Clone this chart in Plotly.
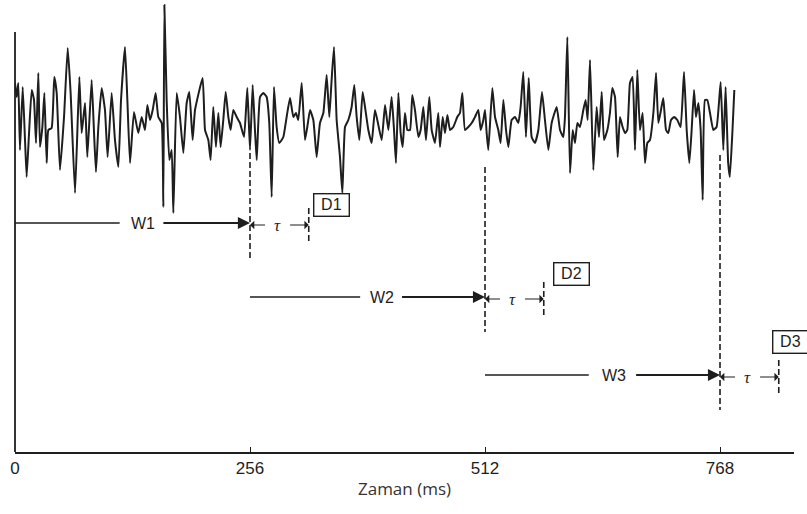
import plotly.graph_objects as go

# ---------------- data ----------------
time_ms = [0, 1.8, 3.6, 5.4, 8.4, 10.9, 12.7, 15.3, 18.2, 20.7, 22.9, 25.4, 27.2, 29.8, 32.0, 34.5,
           36.3, 39.9, 42.8, 45.4, 49.0, 53.4, 57.4, 60.6, 65.4, 70.1, 72.6, 76.3, 78.8, 83.5, 86.1,
           88.2, 90.8, 94.4, 98.0, 100.9, 105.3, 108.9, 112.6, 115.5, 119.8, 122.4, 125.3, 129.6,
           134.3, 138.0, 141.6, 144.2, 147.1, 150.0, 153.2, 156.1, 159.8, 161.6, 162.7, 165.2, 168.1,
           170.7, 172.5, 176.1, 179.7, 183.4, 187.0, 189.9, 193.5, 196.1,
           204.4, 207.0, 210.6, 213.1, 216.0, 218.9, 221.5, 224.0, 226.9, 229.5, 232.4, 234.9, 237.8,
           241.5, 245.1, 249.5, 253.1, 256.0, 258.9, 261.4, 263.3, 266.9, 270.5, 274.1, 277.0, 279.6,
           282.1, 285.0, 287.9, 292.3, 295.9, 299.6, 303.2, 306.1, 308.6, 312.3, 315.9, 318.4, 321.4,
           325.0, 328.6, 332.2, 335.9, 339.5, 342.4, 344.9, 347.5, 350.4, 354.0, 356.6, 359.5, 363.1,
           366.7, 369.6, 372.2, 375.1, 378.7, 381.3, 384.9, 388.5, 392.2,
           399.4, 403.1, 406.7, 410.3, 412.9, 415.0, 417.6, 420.1, 422.3, 424.8, 427.4, 430.3, 432.8,
           435.7, 439.4, 441.9, 444.8, 447.7, 451.3, 453.9, 457.5, 461.1, 463.0, 465.9, 468.4, 471.0,
           473.9, 477.5, 481.8, 484.7, 487.3, 490.2, 493.8, 497.5, 501.1, 504.7, 507.3, 510.2, 512.0,
           513.8, 515.6, 520.0, 522.9, 526.5, 529.0, 532.0, 534.9, 537.4, 541.0, 544.7, 548.3, 550.8,
           553.7, 556.6, 559.6, 562.8, 566.4, 570.1, 574.1, 577.3, 581.0, 584.6,
           590.1, 593.7, 597.3, 599.1, 601.7, 604.6, 607.5, 610.0, 612.6, 615.5, 619.1, 621.6, 623.8,
           626.4, 630.0, 633.6, 636.2, 639.1, 641.6, 645.3, 648.1, 650.7, 653.6, 656.5, 659.0, 661.9,
           664.5, 667.0, 669.9, 672.8, 675.4, 677.9, 680.8, 683.7, 686.3, 688.8, 691.7, 695.4, 698.3,
           700.8, 703.7, 706.2, 709.2, 711.7, 714.6, 717.9, 721.5, 725.1, 728.8, 731.7, 734.6, 737.1,
           739.7, 741.8, 744.4, 746.9, 749.1, 751.6, 754.2, 757.1, 760.7, 764.3, 768.7, 771.6, 774.1,
           776.9, 778.7, 781.6, 783.6]

amplitude = [27, 13, 27, -40, 23, -30, -67, -23, 20, 10, -33, 37, -37, -17, 17, -53,
             -20, -18, 33, 17, -60, -7, 62, 17, -83, 33, -23, 7, -47, 30, -23,
             -62, -17, 22, 0, -47, 17, -30, -57, 10, 63, 10, -53, -2,
             -23, -7, -20, 5, -10, 0, 17, -7, -13, -97, 105, 10, -50,
             -40, -103, 17, -7, -43, 7, 18, -30, 0,
             32, -20, -30, -50, 3, -37, -3, -37, -10, 18, -7, -20, 0,
             -7, -13, -27, 22, -40, 25, -20, -50, 13, 17, 13, -13, -87,
             23, -17, -33, -27, -7, 12, -7, -3, -10, 27, -30, -17, 0,
             -10, -47, -13, -3, 35, -7, 30, 63, -10, -47, -83, -17, -10,
             3, 25, -7, -30, 18, 3, -20, -33, 0,
             -30, 5, -20, 13, -20, -53, 17, -23, -37, -3, -20, -20, 15,
             0, -27, -20, 3, -30, 13, -20, -33, -3, -37, -7, -23, -5,
             -20, -17, -7, -3, 17, -20, -17, -13, -7, 0, -20, -10, 0,
             -23, -40, 22, -7, -20, -33, 10, -20, -37, -10, -7, -13, 3,
             38, -27, 32, -27, -33, -20, 18, -10, -40, -13,
             3, -20, -27, -7, 73, -63, -20, -33, -13, -17, 0, 10, -10,
             50, -60, 3, -27, 18, -30, -20, -3, 22, 13, -47, -7, -17,
             -23, -20, 27, 33, -40, 40, -20, -3, -53, -33, -30, -3, 37,
             -13, 0, 12, -20, -23, -10, -7, -10, -17, 38, -20, -53, -20,
             20, -7, 7, -20, -90, 10, 10, -3, -20, -17, 28, -40, 23,
             -53, -67, -20, 20]

tick_values = [0, 256, 512, 768]
tick_labels = ["0", "256", "512", "768"]
window_starts = [0, 256, 512]
window_length = 256
tau_ms = 64
window_names = ["W1", "W2", "W3"]
decision_names = ["D1", "D2", "D3"]

# ---------------- layout constants ----------------
INK = "#1e1e1e"
w_levels = [-113, -187, -265]          # vertical level of each window arrow
w_text_offset = [139, 144, 140]        # label position from window start (ms)
w_gap = [25, 24, 27]                   # half-gap around label (ms)
dash_tops = [-43, -57, -45]            # top of each window-end dashed line
dash_ext = 35                          # extension below level
d_dx = [25, 30, 13]
d_dy = [18, 23, 33]

fig = go.Figure()
fig.add_trace(go.Scatter(x=time_ms, y=amplitude, mode="lines",
                         line=dict(color=INK, width=2.0, shape="spline", smoothing=0.4),
                         hoverinfo="skip", showlegend=False))

shapes = []
annotations = []

# left axis line
shapes.append(dict(type="line", xref="paper", yref="y", x0=0, x1=0, y0=78, y1=-342,
                   line=dict(color=INK, width=1.8)))

for i, ws in enumerate(window_starts):
    we = ws + window_length
    lvl = w_levels[i]
    tx = ws + w_text_offset[i]
    # left plain segment
    shapes.append(dict(type="line", xref="x", yref="y", x0=ws, x1=tx - w_gap[i], y0=lvl, y1=lvl,
                       line=dict(color=INK, width=1.3)))
    # window end dashed line
    shapes.append(dict(type="line", xref="x", yref="y", x0=we, x1=we,
                       y0=dash_tops[i], y1=lvl - dash_ext,
                       line=dict(color=INK, width=1.6, dash="6px,3px")))
    # tau end dashed line
    shapes.append(dict(type="line", xref="x", yref="y", x0=we + tau_ms, x1=we + tau_ms,
                       y0=lvl + 15, y1=lvl - 20,
                       line=dict(color=INK, width=1.6, dash="6px,3px")))
    # W label
    annotations.append(dict(x=tx, y=lvl, xref="x", yref="y", text=window_names[i],
                            showarrow=False, font=dict(family="Liberation Sans", size=16, color=INK)))
    # W arrow
    annotations.append(dict(x=we, y=lvl, ax=tx + w_gap[i] - 4, ay=lvl, xref="x", yref="y",
                            axref="x", ayref="y", text="", showarrow=True,
                            arrowhead=2, arrowsize=1.1, arrowwidth=2.2, arrowcolor=INK))
    # tau arrows and label
    annotations.append(dict(x=we, y=lvl - 2, ax=we + 18, ay=lvl - 2, xref="x", yref="y",
                            axref="x", ayref="y", text="", showarrow=True,
                            arrowhead=1, arrowsize=1.2, arrowwidth=1.2, arrowcolor=INK))
    annotations.append(dict(x=we + tau_ms, y=lvl - 2, ax=we + 42, ay=lvl - 2, xref="x", yref="y",
                            axref="x", ayref="y", text="", showarrow=True,
                            arrowhead=1, arrowsize=1.2, arrowwidth=1.2, arrowcolor=INK))
    annotations.append(dict(x=we + 30, y=lvl - 2, xref="x", yref="y", text="<i>τ</i>",
                            showarrow=False,
                            font=dict(family="Liberation Serif", size=17, color=INK)))
    # decision box
    annotations.append(dict(x=we + tau_ms + d_dx[i], y=lvl + d_dy[i], xref="x", yref="y",
                            text=decision_names[i], showarrow=False,
                            font=dict(family="Liberation Sans", size=16, color=INK),
                            bordercolor=INK, borderwidth=1.4, borderpad=2,
                            width=30, height=17, bgcolor="white"))

fig.update_layout(
    width=807, height=514,
    margin=dict(l=15, r=13, t=0, b=62),
    paper_bgcolor="white", plot_bgcolor="white",
    shapes=shapes, annotations=annotations,
    xaxis=dict(range=[0, 848.6], showgrid=False, zeroline=False,
               showline=True, linecolor=INK, linewidth=1.8,
               ticks="inside", ticklen=5, tickcolor=INK, tickwidth=1.2,
               tickvals=tick_values, ticktext=tick_labels,
               tickfont=dict(family="Liberation Sans Narrow, Liberation Sans", size=17, color=INK),
               ticklabelstandoff=0,
               title=dict(text="Zaman (ms)", standoff=6,
                          font=dict(family="Open Sans", size=17, color="#333333"))),
    yaxis=dict(range=[-342, 110], visible=False),
)

fig.write_html("out.html", config={"displayModeBar": False},
               post_script="document.body.style.margin='0';")
